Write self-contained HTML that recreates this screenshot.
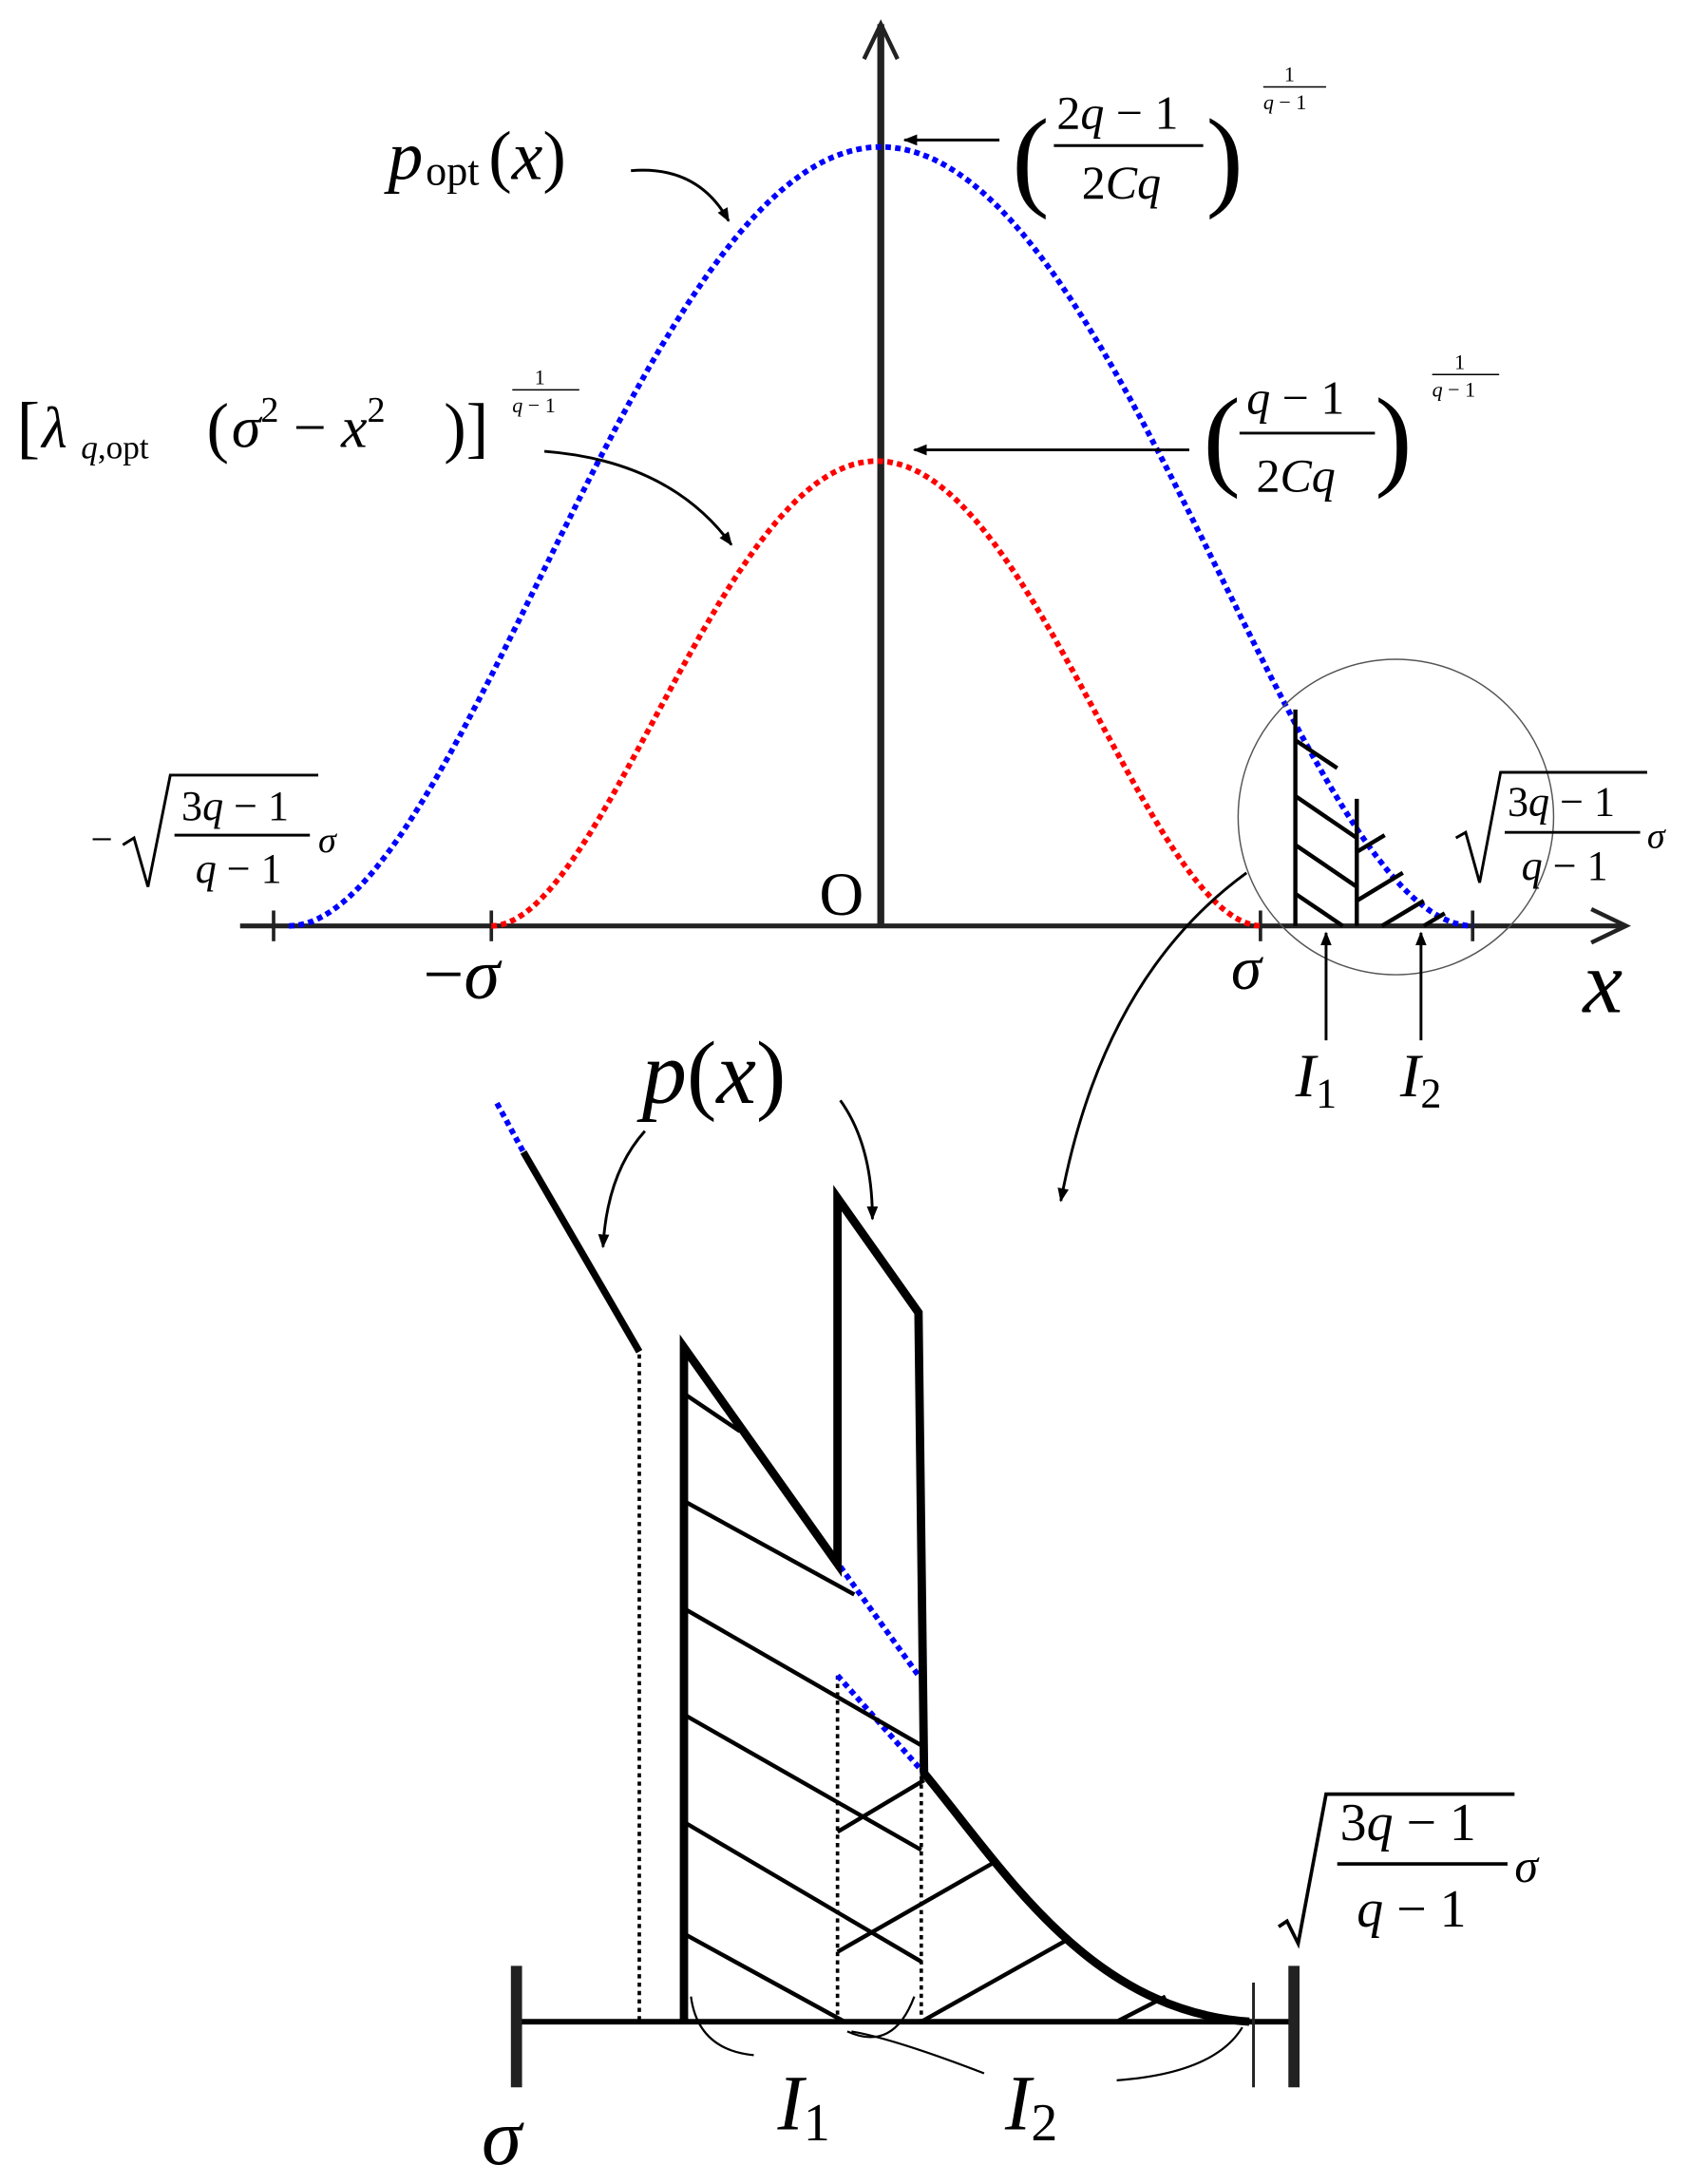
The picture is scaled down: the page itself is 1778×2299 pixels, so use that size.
<!DOCTYPE html>
<html><head><meta charset="utf-8"><style>
html,body{margin:0;padding:0;background:#fff}
svg{display:block}
text{font-family:"Liberation Serif",serif;fill:#000}
.i{font-style:italic}
</style></head><body>
<svg width="1778" height="2299" viewBox="0 0 1210 1564" xmlns="http://www.w3.org/2000/svg">
<defs>
<marker id="ah" markerWidth="10" markerHeight="10" refX="9" refY="5" orient="auto" markerUnits="userSpaceOnUse"><path d="M0,1 L10,5 L0,9 Z" fill="#000"/></marker>
</defs>
<line x1="631" y1="663" x2="631" y2="17" stroke="#222" stroke-width="5"/>
<path d="M619,42 L631,17 L643,42" fill="none" stroke="#222" stroke-width="3"/>
<line x1="172" y1="663" x2="1163" y2="663" stroke="#222" stroke-width="3.5"/>
<path d="M1140,651 L1165,663 L1140,675" fill="none" stroke="#222" stroke-width="3"/>
<g stroke="#222" stroke-width="2.5">
<line x1="196" y1="652" x2="196" y2="674"/><line x1="352" y1="652" x2="352" y2="674"/>
<line x1="903" y1="652" x2="903" y2="674"/><line x1="1055" y1="652" x2="1055" y2="674"/>
</g>
<path id="blue" d="" fill="none" stroke="#00f" stroke-width="4" stroke-dasharray="4 3"/>
<path id="red" d="" fill="none" stroke="#f00" stroke-width="4" stroke-dasharray="4 3"/>
<circle cx="1000" cy="585" r="113" fill="none" stroke="#555" stroke-width="1"/>
<g stroke="#000" stroke-width="3" fill="none">
<path d="M928,663 L928,508"/>
<line x1="972" y1="663" x2="972" y2="572"/>
<line x1="928" y1="530" x2="958" y2="550"/>
<line x1="928" y1="570" x2="972" y2="600"/>
<line x1="928" y1="605" x2="972" y2="635"/>
<line x1="928" y1="640" x2="962" y2="663"/>
<line x1="972" y1="610" x2="992" y2="598"/>
<line x1="972" y1="645" x2="1005" y2="625"/>
<line x1="990" y1="663" x2="1020" y2="645"/>
<line x1="1020" y1="663" x2="1035" y2="654"/>
</g>
<g stroke="#000" stroke-width="2" fill="none">
<path d="M452,122 Q500,118 522,158" marker-end="url(#ah)"/>
<line x1="716" y1="100" x2="648" y2="100" marker-end="url(#ah)"/>
<line x1="852" y1="322" x2="655" y2="322" marker-end="url(#ah)"/>
<path d="M390,323 Q480,330 524,390" marker-end="url(#ah)"/>
<line x1="950" y1="745" x2="950" y2="668" marker-end="url(#ah)"/>
<line x1="1018" y1="745" x2="1018" y2="668" marker-end="url(#ah)"/>
<path d="M893,625 Q790,700 760,860" marker-end="url(#ah)"/>
<path d="M462,810 Q435,840 432,893" marker-end="url(#ah)"/>
<path d="M602,788 Q625,820 625,873" marker-end="url(#ah)"/>
</g>
<text x="278" y="128" class="i" font-size="50">p</text><text x="305" y="132" font-size="30">opt</text><text x="350" y="128" font-size="50">(<tspan class="i">x</tspan>)</text>
<text x="725" y="140" font-size="80">(</text>
<text x="757" y="92" font-size="34">2<tspan class="i">q</tspan> − 1</text>
<line x1="755" y1="104" x2="862" y2="104" stroke="#000" stroke-width="2"/>
<text x="775" y="142" font-size="34">2<tspan class="i">C</tspan><tspan class="i">q</tspan></text>
<text x="864" y="140" font-size="80">)</text>
<text x="920" y="58" font-size="15">1</text><line x1="905" y1="62" x2="950" y2="62" stroke="#000"/><text x="905" y="78" font-size="15" class="i">q<tspan font-style="normal"> − 1</tspan></text>
<text x="862" y="340" font-size="80">(</text>
<text x="893" y="296" font-size="34"><tspan class="i">q</tspan> − 1</text>
<line x1="888" y1="310" x2="985" y2="310" stroke="#000" stroke-width="2"/>
<text x="900" y="352" font-size="34">2<tspan class="i">C</tspan><tspan class="i">q</tspan></text>
<text x="985" y="340" font-size="80">)</text>
<text x="1042" y="264" font-size="15">1</text><line x1="1026" y1="268" x2="1074" y2="268" stroke="#000"/><text x="1026" y="284" font-size="15" class="i">q<tspan font-style="normal"> − 1</tspan></text>
<text x="12" y="322" font-size="50">[</text>
<text x="30" y="320" font-size="42" class="i">λ</text>
<text x="58" y="328" font-size="24"><tspan class="i">q</tspan>,opt</text>
<text x="148" y="322" font-size="48">(</text>
<text x="166" y="320" font-size="42"><tspan class="i">σ</tspan><tspan font-size="26" dy="-18">2</tspan><tspan dy="18"> − </tspan><tspan class="i">x</tspan><tspan font-size="26" dy="-18">2</tspan></text>
<text x="318" y="322" font-size="48">)]</text>
<text x="383" y="275" font-size="15">1</text><line x1="367" y1="279" x2="415" y2="279" stroke="#000"/><text x="367" y="295" font-size="15" class="i">q<tspan font-style="normal"> − 1</tspan></text>
<text x="65" y="610" font-size="28">−</text>
<path d="M88,605 L96,600 L106,635 L122,555 L228,555" fill="none" stroke="#000" stroke-width="2"/>
<text x="130" y="587" font-size="30">3<tspan class="i">q</tspan> − 1</text>
<line x1="125" y1="598" x2="222" y2="598" stroke="#000" stroke-width="2"/>
<text x="140" y="632" font-size="30"><tspan class="i">q</tspan> − 1</text>
<text x="228" y="610" font-size="26" class="i">σ</text>
<path d="M1043,600 L1050,596 L1060,632 L1075,553 L1180,553" fill="none" stroke="#000" stroke-width="2"/>
<text x="1080" y="584" font-size="30">3<tspan class="i">q</tspan> − 1</text>
<line x1="1078" y1="596" x2="1175" y2="596" stroke="#000" stroke-width="2"/>
<text x="1090" y="630" font-size="30"><tspan class="i">q</tspan> − 1</text>
<text x="1180" y="607" font-size="26" class="i">σ</text>
<text x="587" y="655" font-size="44">O</text>
<text x="303" y="715" font-size="52">−<tspan class="i">σ</tspan></text>
<text x="882" y="708" font-size="44" class="i">σ</text>
<text x="1134" y="725" font-size="64" class="i">x</text>
<text x="928" y="785" font-size="44" class="i">I<tspan font-style="normal" font-size="30" dy="8">1</tspan></text>
<text x="1003" y="785" font-size="44" class="i">I<tspan font-style="normal" font-size="30" dy="8">2</tspan></text>
<text x="460" y="790" font-size="64"><tspan class="i">p</tspan>(<tspan class="i">x</tspan>)</text>
<line x1="370" y1="1448" x2="925" y2="1448" stroke="#000" stroke-width="4"/>
<line x1="370" y1="1408" x2="370" y2="1495" stroke="#222" stroke-width="8"/>
<line x1="927" y1="1408" x2="927" y2="1495" stroke="#222" stroke-width="8"/>
<line x1="898" y1="1420" x2="898" y2="1495" stroke="#222" stroke-width="2"/>
<line x1="356" y1="790" x2="375" y2="825" stroke="#00f" stroke-width="4" stroke-dasharray="4 3"/>
<line x1="375" y1="825" x2="458" y2="968" stroke="#000" stroke-width="5"/>
<g stroke="#000" stroke-width="2.5" stroke-dasharray="3 3">
<line x1="458" y1="970" x2="458" y2="1448"/>
<line x1="600" y1="1200" x2="600" y2="1448"/>
<line x1="660" y1="1200" x2="660" y2="1448"/>
</g>
<g stroke="#00f" stroke-width="4" stroke-dasharray="4 3">
<line x1="602" y1="1122" x2="658" y2="1200"/>
<line x1="600" y1="1200" x2="662" y2="1270"/>
</g>
<g stroke="#000" stroke-width="3">
<line x1="490" y1="998" x2="530" y2="1025"/>
<line x1="490" y1="1075" x2="612" y2="1142"/>
<line x1="490" y1="1152" x2="660" y2="1250"/>
<line x1="490" y1="1228" x2="660" y2="1325"/>
<line x1="490" y1="1305" x2="660" y2="1405"/>
<line x1="490" y1="1385" x2="605" y2="1448"/>
<line x1="600" y1="1312" x2="662" y2="1275"/>
<line x1="600" y1="1398" x2="712" y2="1334"/>
<line x1="660" y1="1448" x2="767" y2="1388"/>
<line x1="800" y1="1448" x2="835" y2="1430"/>
</g>
<path d="M490,1448 L490,965 L600,1120 L600,858 L658,940 L662,1270 C720,1340 780,1440 895,1448" fill="none" stroke="#000" stroke-width="6" stroke-linejoin="miter"/>
<g stroke="#000" stroke-width="1.5" fill="none">
<path d="M495,1430 Q500,1468 540,1472"/>
<path d="M607,1455 Q640,1470 655,1430"/>
<path d="M610,1455 Q640,1460 705,1485"/>
<path d="M800,1490 Q870,1485 890,1452"/>
</g>
<path d="M916,1380 L922,1376 L930,1392 L950,1285 L1085,1285" fill="none" stroke="#000" stroke-width="2.5"/>
<text x="960" y="1318" font-size="38">3<tspan class="i">q</tspan> − 1</text>
<line x1="958" y1="1335" x2="1080" y2="1335" stroke="#000" stroke-width="2.5"/>
<text x="972" y="1380" font-size="38"><tspan class="i">q</tspan> − 1</text>
<text x="1085" y="1348" font-size="34" class="i">σ</text>
<text x="345" y="1550" font-size="58" class="i">σ</text>
<text x="557" y="1525" font-size="56" class="i">I<tspan font-style="normal" font-size="38" dy="8">1</tspan></text>
<text x="720" y="1525" font-size="56" class="i">I<tspan font-style="normal" font-size="38" dy="8">2</tspan></text>
</svg>
<script>
function curve(id,x0,a,base,h,k){var d='';for(var i=0;i<=200;i++){var t=-1+i/100;var x=x0+a*t;var y=base-h*Math.pow(1-t*t,k);d+=(i?'L':'M')+x.toFixed(1)+','+y.toFixed(1);}document.getElementById(id).setAttribute('d',d);}
curve('blue',631,424,663,558,2);
curve('red',628,276,663,333,2);
</script>
</body></html>
